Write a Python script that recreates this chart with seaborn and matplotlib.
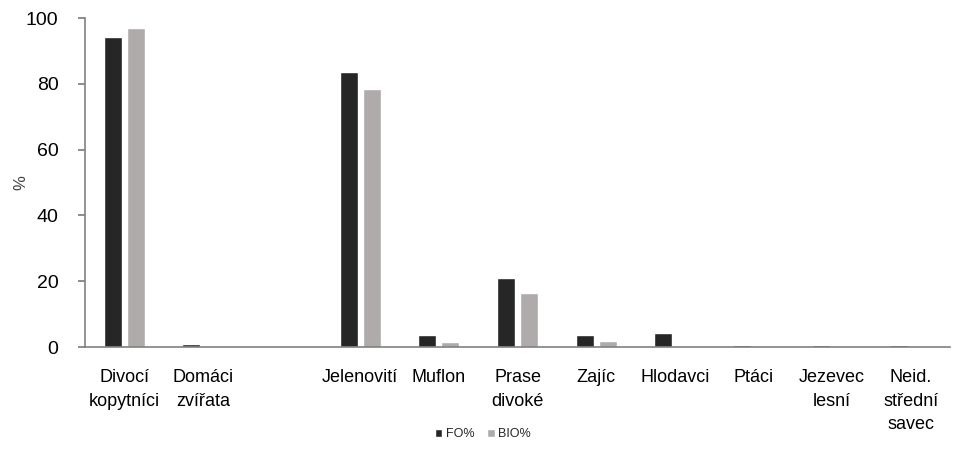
import matplotlib
matplotlib.use("Agg")
import matplotlib.pyplot as plt
import seaborn as sns
import pandas as pd

categories = ["Divocí\nkopytníci", "Domáci\nzvířata", " ", "Jelenovití", "Muflon",
              "Prase\ndivoké", "Zajíc", "Hlodavci", "Ptáci", "Jezevec\nlesní",
              "Neid.\nstřední\nsavec"]
fo_values = [94.2, 0.9, 0.0, 83.6, 3.6, 21.0, 3.6, 4.3, 0.5, 0.5, 0.5]
bio_values = [97.0, 0.0, 0.0, 78.4, 1.5, 16.4, 1.8, 0.3, 0.0, 0.0, 0.3]
series = ["FO%", "BIO%"]
y_ticks = [0, 20, 40, 60, 80, 100]

df = pd.DataFrame({
    "cat": categories * 2,
    "val": fo_values + bio_values,
    "series": [series[0]] * len(categories) + [series[1]] * len(categories),
})

sns.set_theme(style="white")
plt.rcParams['font.family'] = ['Liberation Sans', 'DejaVu Sans']

fig = plt.figure(figsize=(9.68, 4.68), dpi=100)
ax = fig.add_axes([85/968, 1-347/468, (950-85)/968, (347-18)/468])

sns.barplot(data=df, x="cat", y="val", hue="series", order=categories,
            hue_order=series, palette=["#262626", "#AFABAB"],
            width=0.586, gap=0.22, ax=ax, saturation=1, legend=True)

ax.set_ylim(0, 100)
ax.set_yticks(y_ticks)
ax.set_xlim(-0.5, len(categories) - 0.5)
ax.set_xlabel("")
ax.set_ylabel("%", fontsize=12, color="#404040")
ax.yaxis.set_label_coords(-0.066, 0.5)
for s in ["top", "right"]:
    ax.spines[s].set_visible(False)
for s in ["left", "bottom"]:
    ax.spines[s].set_color("#808080")
    ax.spines[s].set_linewidth(1.2)
ax.tick_params(axis="y", which="both", left=True, length=5, color="#808080",
               labelsize=14, labelcolor="#000000", pad=14)
ax.tick_params(axis="x", bottom=False, labelsize=13, labelcolor="#000000", pad=10)
for lab in ax.get_xticklabels():
    lab.set_linespacing(1.5)
    lab.set_verticalalignment("top")

leg = ax.legend(loc="center", bbox_to_anchor=(0.46, -0.265), ncol=2, frameon=False,
                fontsize=9, handlelength=0.6, handleheight=0.6, handletextpad=0.3,
                columnspacing=1.0)

fig.savefig("out.png", dpi=100)
